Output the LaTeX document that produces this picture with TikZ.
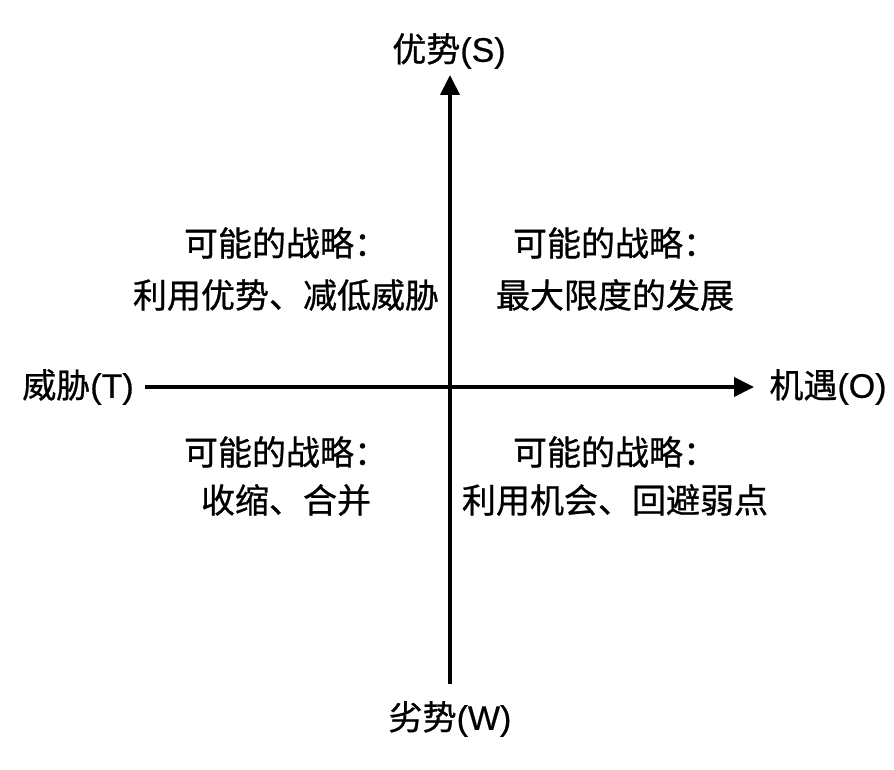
\documentclass[tikz,border=0pt]{standalone}
\usepackage{fontspec}
\setmainfont{Liberation Sans}[RawFeature={embolden=0.6}]
\newfontfamily\cjk{Noto Sans CJK SC}[RawFeature={embolden=0.8}]
\usetikzlibrary{arrows.meta}
\begin{document}
\begin{tikzpicture}[x=1pt,y=-1pt,
  axis/.style={line width=4pt,-{Triangle[length=20pt,width=19pt]}},
  lbl/.style={inner sep=0pt,font=\fontsize{34}{40}\selectfont},
  txt/.style={inner sep=0pt,font=\fontsize{34}{40}\selectfont\cjk}]
\useasboundingbox (0,0) rectangle (894,770);
\coordinate (vb) at (450,684);
\coordinate (vt) at (450,75);
\coordinate (hl) at (145,387);
\coordinate (hr) at (754,387);
\draw[axis] (vb) -- (vt);
\draw[axis] (hl) -- (hr);
\node[lbl] (S) at (449,51) {{\cjk 优势}(S)};
\node[lbl] (W) at (450,719) {{\cjk 劣势}(W)};
\node[lbl] (T) at (78,387) {{\cjk 威胁}(T)};
\node[lbl] (O) at (828,387) {{\cjk 机遇}(O)};
\node[txt] (q1a) at (286,243) {可能的战略：};
\node[txt] (q1b) at (286,295) {利用优势、减低威胁};
\node[txt] (q2a) at (615,243) {可能的战略：};
\node[txt] (q2b) at (615,295) {最大限度的发展};
\node[txt] (q3a) at (286,452) {可能的战略：};
\node[txt] (q3b) at (286,500) {收缩、合并};
\node[txt] (q4a) at (615,452) {可能的战略：};
\node[txt] (q4b) at (615,500) {利用机会、回避弱点};
\end{tikzpicture}
\end{document}
